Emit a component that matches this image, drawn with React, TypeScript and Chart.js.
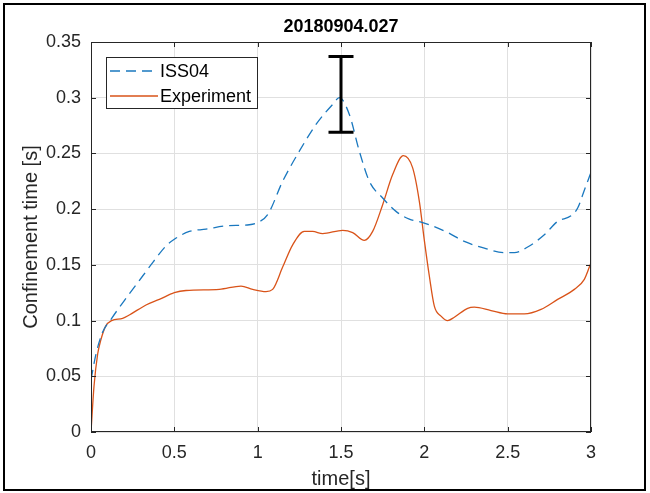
import React, { useEffect, useRef } from "react";
import { Chart, registerables } from "chart.js";

Chart.register(...registerables);

// ---- chart content ----
const chartTitle = "20180904.027";
const xAxisLabel = "time[s]";
const yAxisLabel = "Confinement time [s]";
const seriesNames = ["ISS04", "Experiment"];

const xTickLabels = ["0", "0.5", "1", "1.5", "2", "2.5", "3"];
const yTickLabels = ["0", "0.05", "0.1", "0.15", "0.2", "0.25", "0.3", "0.35"];

// ISS04 prediction
const issTime = [
  0, 0.03, 0.068, 0.124, 0.21, 0.31, 0.37, 0.45, 0.5, 0.59, 0.69, 0.81, 0.95, 1.0,
  1.06, 1.15, 1.25, 1.35, 1.45, 1.49, 1.55, 1.61, 1.67, 1.75, 1.83, 1.91, 1.99,
  2.03, 2.14, 2.24, 2.36, 2.48, 2.54, 2.62, 2.72, 2.8, 2.88, 2.92, 2.96, 3.0,
];
const issValue = [
  0.047, 0.07, 0.089, 0.102, 0.12, 0.14, 0.152, 0.167, 0.173, 0.18, 0.182, 0.185,
  0.186, 0.188, 0.195, 0.225, 0.252, 0.276, 0.294, 0.3, 0.285, 0.252, 0.225, 0.21,
  0.198, 0.191, 0.188, 0.186, 0.179, 0.171, 0.165, 0.161, 0.161, 0.166, 0.177,
  0.189, 0.194, 0.201, 0.217, 0.233,
];

// Measured confinement time
const expTime = [
  0, 0.018, 0.04, 0.058, 0.088, 0.124, 0.19, 0.23, 0.33, 0.41, 0.5, 0.57, 0.77,
  0.9, 0.97, 1.05, 1.09, 1.15, 1.21, 1.28, 1.33, 1.39, 1.51, 1.57, 1.64, 1.69,
  1.75, 1.81, 1.874, 1.93, 1.97, 2.0, 2.03, 2.06, 2.1, 2.14, 2.18, 2.26, 2.3,
  2.4, 2.5, 2.6, 2.7, 2.8, 2.9, 2.96, 3.0,
];
const expValue = [
  0.0, 0.041, 0.07, 0.082, 0.095, 0.1, 0.102, 0.105, 0.114, 0.119, 0.125, 0.127,
  0.128, 0.131, 0.128, 0.126, 0.128, 0.148, 0.168, 0.18, 0.18, 0.178, 0.181,
  0.179, 0.172, 0.18, 0.204, 0.231, 0.248, 0.237, 0.207, 0.172, 0.14, 0.113,
  0.104, 0.1, 0.103, 0.111, 0.112, 0.109, 0.106, 0.106, 0.11, 0.119, 0.128,
  0.137, 0.152,
];

// Uncertainty bar on the ISS04 peak
const errorBarTime = 1.5;
const errorBarLow = 0.269;
const errorBarHigh = 0.337;

const FONT = "'Liberation Sans', Arial, Helvetica, sans-serif";
const AXIS_COLOR = "#262626";
const BLUE = "#1a78bf";
const ORANGE = "#D95319";
const DASH = [10, 6];

const decorations = {
  id: "decorations",
  beforeDraw(chart: any) {
    const ctx = chart.ctx;
    ctx.save();
    ctx.fillStyle = "#ffffff";
    ctx.fillRect(0, 0, chart.width, chart.height);
    ctx.restore();
  },
  afterDraw(chart: any) {
    const ctx = chart.ctx;
    const { left, right, top, bottom } = chart.chartArea;
    const xs = chart.scales.x;
    const ys = chart.scales.y;
    ctx.save();

    // axes box
    ctx.strokeStyle = AXIS_COLOR;
    ctx.lineWidth = 1;
    ctx.strokeRect(left + 0.5, top + 0.5, right - left - 1, bottom - top - 1);

    // inward tick marks on all four sides
    const tl = 5;
    ctx.beginPath();
    xs.ticks.forEach((t: any) => {
      const px = Math.round(xs.getPixelForValue(t.value)) + 0.5;
      ctx.moveTo(px, bottom);
      ctx.lineTo(px, bottom - tl);
      ctx.moveTo(px, top);
      ctx.lineTo(px, top + tl);
    });
    ys.ticks.forEach((t: any) => {
      const py = Math.round(ys.getPixelForValue(t.value)) + 0.5;
      ctx.moveTo(left, py);
      ctx.lineTo(left + tl, py);
      ctx.moveTo(right, py);
      ctx.lineTo(right - tl, py);
    });
    ctx.stroke();

    // error bar
    const ex = xs.getPixelForValue(errorBarTime);
    const eTop = ys.getPixelForValue(errorBarHigh);
    const eBot = ys.getPixelForValue(errorBarLow);
    const cap = 12.5;
    ctx.strokeStyle = "#000000";
    ctx.lineWidth = 3;
    ctx.beginPath();
    ctx.moveTo(ex, eTop);
    ctx.lineTo(ex, eBot);
    ctx.moveTo(ex - cap, eTop);
    ctx.lineTo(ex + cap, eTop);
    ctx.moveTo(ex - cap, eBot);
    ctx.lineTo(ex + cap, eBot);
    ctx.stroke();

    // legend
    const lx = 106.5;
    const ly = 57.5;
    ctx.fillStyle = "#ffffff";
    ctx.fillRect(lx, ly, 151, 51);
    ctx.strokeStyle = AXIS_COLOR;
    ctx.lineWidth = 1;
    ctx.strokeRect(lx, ly, 151, 51);

    ctx.lineWidth = 1.3;
    ctx.strokeStyle = BLUE;
    ctx.setLineDash(DASH);
    ctx.beginPath();
    ctx.moveTo(110, 71);
    ctx.lineTo(158, 71);
    ctx.stroke();
    ctx.setLineDash([]);
    ctx.strokeStyle = ORANGE;
    ctx.beginPath();
    ctx.moveTo(110, 96);
    ctx.lineTo(158, 96);
    ctx.stroke();

    ctx.fillStyle = "#000000";
    ctx.font = `18px ${FONT}`;
    ctx.textAlign = "left";
    ctx.textBaseline = "middle";
    ctx.fillText(seriesNames[0], 160, 72.5);
    ctx.fillText(seriesNames[1], 160, 97.5);

    // title
    ctx.font = `bold 18px ${FONT}`;
    ctx.textAlign = "center";
    ctx.fillText(chartTitle, (left + right) / 2, 27.5);

    // outer frame
    ctx.strokeStyle = "#000000";
    ctx.lineWidth = 2;
    ctx.strokeRect(4, 4, 641, 486);

    ctx.restore();
  },
};

export default function App() {
  const canvasRef = useRef<HTMLCanvasElement | null>(null);

  useEffect(() => {
    const canvas = canvasRef.current;
    if (!canvas) return;

    const chart = new Chart(canvas, {
      type: "line",
      data: {
        datasets: [
          {
            label: seriesNames[0],
            data: issTime.map((t, i) => ({ x: t, y: issValue[i] })),
            borderColor: BLUE,
            borderWidth: 1.3,
            borderDash: DASH,
            pointRadius: 0,
            cubicInterpolationMode: "monotone",
            fill: false,
          },
          {
            label: seriesNames[1],
            data: expTime.map((t, i) => ({ x: t, y: expValue[i] })),
            borderColor: ORANGE,
            borderWidth: 1.3,
            pointRadius: 0,
            cubicInterpolationMode: "monotone",
            fill: false,
          },
        ],
      },
      options: {
        responsive: false,
        animation: false,
        devicePixelRatio: 1,
        layout: { padding: { top: 42, right: 59, left: 0, bottom: 0 } },
        plugins: {
          legend: { display: false },
          title: { display: false },
          tooltip: { enabled: false },
        },
        scales: {
          x: {
            type: "linear",
            min: 0,
            max: 3,
            ticks: {
              stepSize: 0.5,
              padding: 10,
              color: AXIS_COLOR,
              font: { family: FONT, size: 18 },
              maxRotation: 0,
              callback: (_v: any, i: number) => xTickLabels[i],
            },
            grid: { color: "#e0e0e0", drawTicks: false },
            border: { display: false },
            title: {
              display: true,
              text: xAxisLabel,
              color: AXIS_COLOR,
              font: { family: FONT, size: 20 },
              padding: { top: 0, bottom: 2 },
            },
            afterFit: (s: any) => {
              s.height = 61;
            },
          },
          y: {
            type: "linear",
            min: 0,
            max: 0.35,
            ticks: {
              stepSize: 0.05,
              padding: 10,
              color: AXIS_COLOR,
              font: { family: FONT, size: 18 },
              callback: (_v: any, i: number) => yTickLabels[i],
            },
            grid: { color: "#e0e0e0", drawTicks: false },
            border: { display: false },
            title: {
              display: true,
              text: yAxisLabel,
              color: AXIS_COLOR,
              font: { family: FONT, size: 20 },
              padding: { top: 19, bottom: 0 },
            },
            afterFit: (s: any) => {
              s.width = 91;
            },
          },
        },
      },
      plugins: [decorations],
    } as any);

    return () => chart.destroy();
  }, []);

  return (
    <div style={{ position: "fixed", left: 0, top: 0, width: 650, height: 493 }}>
      <canvas ref={canvasRef} width={650} height={493} style={{ width: 650, height: 493 }} />
    </div>
  );
}
